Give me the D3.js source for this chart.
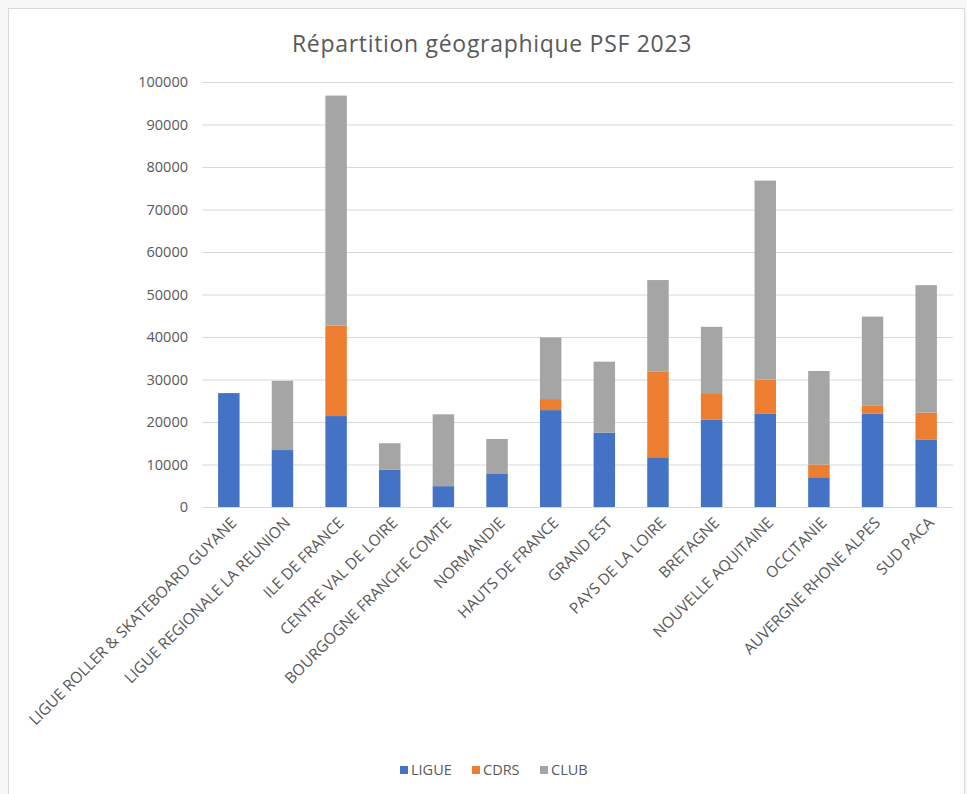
<!DOCTYPE html>
<html>
<head>
<meta charset="utf-8">
<script src="https://cdn.jsdelivr.net/npm/d3@7"></script>
<style>
  body { margin: 0; background: #f7f7f7; }
  svg { display: block; font-family: "Open Sans", sans-serif; }
</style>
</head>
<body>
<div id="chart-wrap"></div>
<script>
const regions = ['LIGUE ROLLER & SKATEBOARD GUYANE', 'LIGUE REGIONALE LA REUNION', 'ILE DE FRANCE',
  'CENTRE VAL DE LOIRE', 'BOURGOGNE FRANCHE COMTE', 'NORMANDIE', 'HAUTS DE FRANCE', 'GRAND EST',
  'PAYS DE LA LOIRE', 'BRETAGNE', 'NOUVELLE AQUITAINE', 'OCCITANIE', 'AUVERGNE RHONE ALPES', 'SUD PACA'];
const ligue = [26800, 13400, 21400, 8800, 4900, 7900, 22800, 17500, 11700, 20600, 21900, 7000, 22000, 15800];
const cdrs = [0, 0, 21300, 0, 0, 0, 2600, 0, 20100, 6200, 8100, 3000, 1800, 6400];
const club = [0, 16300, 54100, 6200, 16900, 8100, 14500, 16700, 21600, 15600, 46800, 22000, 21000, 30000];
const seriesNames = ['LIGUE', 'CDRS', 'CLUB'];
const colorsArray = ['#4472C4', '#ED7D31', '#A5A5A5'];
const yTicks = d3.range(0, 100001, 10000);

const width = 967;
const height = 794;
const margin = { top: 82, right: 14, bottom: 287, left: 202 };

const rows = regions.map((r, i) => ({ name: r, LIGUE: ligue[i], CDRS: cdrs[i], CLUB: club[i] }));
const stacked = d3.stack().keys(seriesNames)(rows);

const x = d3.scaleBand()
  .domain(regions)
  .range([margin.left, width - margin.right])
  .paddingInner(0.6)
  .paddingOuter(0.3);

const y = d3.scaleLinear()
  .domain([0, 100000])
  .range([height - margin.bottom, margin.top]);

const svg = d3.select('#chart-wrap').append('svg')
  .attr('width', width)
  .attr('height', height);

// chart frame
svg.append('rect')
  .attr('x', 8.5).attr('y', 8.5)
  .attr('width', 956).attr('height', 800)
  .attr('fill', '#fff')
  .attr('stroke', '#d9d9d9');

svg.append('text')
  .attr('x', 492).attr('y', 52)
  .attr('text-anchor', 'middle')
  .attr('fill', '#595959')
  .style('font-size', '23px')
  .style('letter-spacing', '0.7px')
  .text('Répartition géographique PSF 2023');

// gridlines + y labels
const yAxis = svg.append('g')
  .attr('transform', `translate(${margin.left},0)`)
  .call(d3.axisLeft(y).tickValues(yTicks).tickSize(-(width - margin.right - margin.left)).tickPadding(14).tickFormat(d3.format('d')));
yAxis.select('.domain').remove();
yAxis.selectAll('.tick line').attr('stroke', '#d9d9d9');
yAxis.selectAll('.tick text')
  .attr('fill', '#595959')
  .style('font-size', '14.5px')
  .style('font-family', '"Open Sans", sans-serif');

// bars
svg.append('g')
  .selectAll('g')
  .data(stacked)
  .enter()
  .append('g')
  .attr('fill', (d, i) => colorsArray[i])
  .selectAll('rect')
  .data(d => d)
  .enter()
  .append('rect')
  .attr('x', d => x(d.data.name))
  .attr('width', x.bandwidth())
  .attr('y', d => y(d[1]))
  .attr('height', d => y(d[0]) - y(d[1]));

// x labels
svg.append('g')
  .selectAll('text')
  .data(regions)
  .enter()
  .append('text')
  .attr('transform', d => `translate(${x(d) + x.bandwidth() / 2 + 5},${height - margin.bottom + 13}) rotate(-45)`)
  .attr('text-anchor', 'end')
  .attr('dy', '0.35em')
  .attr('fill', '#595959')
  .style('font-size', '15.5px')
  .text(d => d);

// legend
const legendX = [400, 472, 540];
const legend = svg.append('g')
  .selectAll('g')
  .data(seriesNames)
  .enter()
  .append('g')
  .attr('transform', (d, i) => `translate(${legendX[i]},770)`);

legend.append('rect')
  .attr('x', 0).attr('y', -4)
  .attr('width', 8).attr('height', 8)
  .attr('fill', (d, i) => colorsArray[i]);

legend.append('text')
  .attr('x', 11)
  .attr('dy', '0.35em')
  .attr('fill', '#595959')
  .style('font-size', '14.5px')
  .text(d => d);
</script>
</body>
</html>
